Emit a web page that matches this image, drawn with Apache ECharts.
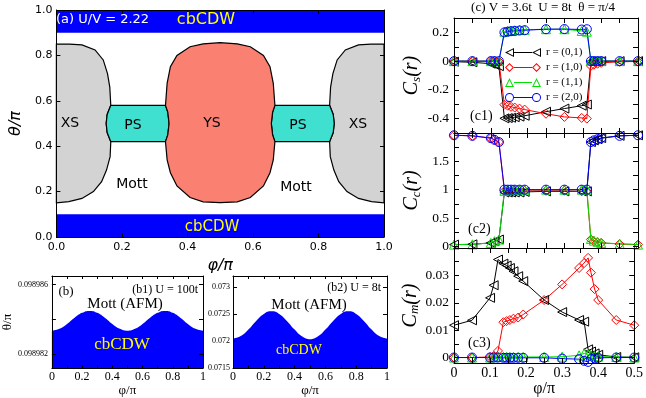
<!DOCTYPE html>
<html>
<head>
<meta charset="utf-8">
<script src="https://cdn.jsdelivr.net/npm/echarts@6/dist/echarts.min.js"></script>
<style>
html, body { margin: 0; padding: 0; background: #fff; }
#chart { width: 646px; height: 398px; }
</style>
</head>
<body>
<div id="chart"></div>
<script>
// ---- panel (a): phase regions, points are [phi/pi, theta/pi]
var cdwTop = [[0, 0.9], [1, 0.9], [1, 1], [0, 1]];
var cdwBottom = [[0, 0], [1, 0], [1, 0.1], [0, 0.1]];
var xsLeft = [[0, 0.85], [0.04, 0.85], [0.078, 0.846], [0.118, 0.824], [0.143, 0.78], [0.156, 0.72], [0.163, 0.66], [0.166, 0.58], [0.155, 0.54], [0.152, 0.5], [0.155, 0.46], [0.166, 0.42], [0.164, 0.354], [0.153, 0.295], [0.138, 0.244], [0.113, 0.2], [0.078, 0.17], [0.038, 0.156], [0, 0.151]];
var xsRight = [[1, 0.85], [0.96, 0.85], [0.922, 0.846], [0.882, 0.824], [0.857, 0.78], [0.844, 0.72], [0.837, 0.66], [0.834, 0.58], [0.845, 0.54], [0.848, 0.5], [0.845, 0.46], [0.834, 0.42], [0.836, 0.354], [0.847, 0.295], [0.862, 0.244], [0.887, 0.2], [0.922, 0.17], [0.962, 0.156], [1, 0.151]];
var psLeft = [[0.166, 0.58], [0.333, 0.58], [0.34, 0.55], [0.344, 0.5], [0.34, 0.45], [0.333, 0.42], [0.166, 0.42], [0.155, 0.46], [0.152, 0.5], [0.155, 0.54]];
var psRight = [[0.834, 0.58], [0.667, 0.58], [0.66, 0.55], [0.656, 0.5], [0.66, 0.45], [0.667, 0.42], [0.834, 0.42], [0.845, 0.46], [0.848, 0.5], [0.845, 0.54]];
var ysRegion = [[0.333, 0.58], [0.338, 0.677], [0.348, 0.75], [0.368, 0.8], [0.408, 0.838], [0.448, 0.851], [0.5, 0.856], [0.552, 0.851], [0.592, 0.838], [0.632, 0.8], [0.652, 0.75], [0.662, 0.677], [0.667, 0.58], [0.66, 0.55], [0.656, 0.5], [0.66, 0.45], [0.667, 0.42], [0.662, 0.34], [0.652, 0.283], [0.632, 0.225], [0.592, 0.174], [0.552, 0.155], [0.5, 0.151], [0.448, 0.155], [0.408, 0.174], [0.368, 0.225], [0.348, 0.283], [0.338, 0.34], [0.333, 0.42], [0.34, 0.45], [0.344, 0.5], [0.34, 0.55]];

// ---- panels (b1), (b2): cbCDW / Mott boundary
var bPhi = [0, 0.05, 0.1, 0.15, 0.2, 0.25, 0.3, 0.35, 0.4, 0.45, 0.5, 0.55, 0.6, 0.65, 0.7, 0.75, 0.8, 0.85, 0.9, 0.95, 1];
var b1Theta = [0.09898335, 0.09898346, 0.09898374, 0.0989841, 0.09898438, 0.09898449, 0.09898438, 0.0989841, 0.09898374, 0.09898346, 0.09898335, 0.09898346, 0.09898374, 0.0989841, 0.09898438, 0.09898449, 0.09898438, 0.0989841, 0.09898374, 0.09898346, 0.09898335];
var b2Theta = [0.072044, 0.07209, 0.07221, 0.07237, 0.0725, 0.072548, 0.0725, 0.07237, 0.07221, 0.07208, 0.072031, 0.07208, 0.07221, 0.07237, 0.0725, 0.072548, 0.0725, 0.07237, 0.07221, 0.07209, 0.072044];

// ---- panel (c): correlations vs phi/pi
var phi = [0, 0.05, 0.1, 0.11, 0.122, 0.137, 0.146, 0.155, 0.165, 0.178, 0.192, 0.25, 0.3, 0.347, 0.361, 0.372, 0.38, 0.39, 0.4, 0.45, 0.5];
var rNames = ['r = (0,1)', 'r = (1,0)', 'r = (1,1)', 'r = (2,0)'];
var cs01 = [-0.004, -0.008, -0.018, -0.025, -0.035, -0.398, -0.396, -0.394, -0.39, -0.386, -0.38, -0.352, -0.33, -0.31, -0.302, -0.003, -0.002, -0.001, 0, 0, 0];
var cs10 = [0, 0, 0, 0, -0.002, -0.303, -0.31, -0.318, -0.323, -0.33, -0.337, -0.366, -0.388, -0.395, -0.4, -0.033, -0.025, -0.018, -0.012, -0.005, -0.002];
var cs11 = [0, 0, 0, 0, 0, 0.205, 0.21, 0.213, 0.215, 0.217, 0.218, 0.222, 0.222, 0.21, 0.205, 0.003, 0.002, 0.001, 0, 0, 0];
var cs20 = [0, 0, 0, 0, 0, 0.2, 0.205, 0.208, 0.21, 0.213, 0.215, 0.222, 0.223, 0.22, 0.222, 0, 0, 0, 0, 0, 0];
var cc01 = [0.03, 0.035, 0.06, 0.09, 0.12, 0.95, 0.95, 0.95, 0.95, 0.95, 0.96, 0.97, 0.97, 0.97, 0.97, 1.84, 1.87, 1.89, 1.91, 1.95, 1.96];
var cc10 = [1.96, 1.95, 1.91, 1.88, 1.84, 0.98, 0.98, 0.98, 0.98, 0.98, 0.98, 0.98, 0.98, 0.97, 0.97, 0.12, 0.09, 0.07, 0.06, 0.04, 0.03];
var cc11 = [0.03, 0.035, 0.06, 0.09, 0.12, 0.98, 1, 1, 1, 1, 1, 1, 1, 1, 1, 0.13, 0.1, 0.08, 0.06, 0.045, 0.03];
var cc20 = [1.96, 1.95, 1.91, 1.88, 1.84, 1, 1, 1, 1, 1, 1, 1, 1, 1, 1, 1.84, 1.87, 1.89, 1.91, 1.95, 1.96];
var cm01 = [0.0118, 0.0136, 0.0218, 0.0264, 0.0358, 0.0343, 0.0336, 0.0327, 0.0315, 0.0297, 0.0279, 0.021, 0.0166, 0.0137, 0.0131, 0.003, 0.0022, 0.0015, 0.001, 0.0002, 0.0001];
var cm10 = [0, 0, 0.0002, 0.0005, 0.0024, 0.0129, 0.0133, 0.0137, 0.0142, 0.0146, 0.0157, 0.021, 0.0267, 0.0327, 0.0345, 0.0364, 0.031, 0.025, 0.021, 0.0137, 0.0118];
var cm11 = [0, 0, 0, 0.0001, 0.0003, 0.0002, 0.0002, 0.0002, 0.0002, 0.0002, 0.0002, 0.0002, 0.0003, 0.0008, 0.0015, 0.0012, 0.0008, 0.0005, 0.0003, 0.0002, 0];
var cm20 = [0, 0, 0, 0, 0, -0.0001, -0.0001, -0.0001, -0.0001, -0.0001, -0.0001, -0.0001, -0.0004, -0.0006, -0.0012, -0.0016, -0.0006, -0.0003, -0.0001, 0, 0];

var SANS = 'DejaVu Sans', SERIF = 'Liberation Serif';
var chart = echarts.init(document.getElementById('chart'));

var grids = [
    {left: 51, top: 10, width: 333, height: 227},
    {left: 49, top: 276, width: 154, height: 93},
    {left: 233, top: 276, width: 154, height: 92},
    {left: 454, top: 18, width: 184, height: 115},
    {left: 454, top: 133, width: 184, height: 115},
    {left: 454, top: 248, width: 184, height: 115.5}
];

function steps(a, b, d) {
    var out = [];
    for (var v = a; v <= b + d / 1000; v += d) out.push(+v.toFixed(8));
    return out;
}

var xAxes = [], yAxes = [];
// main axis carries labels and name, mirror axis only the inside ticks
function addAxes(list, gi, o, posMain, posMirror) {
    var common = {
        type: 'value', gridIndex: gi, min: o.min, max: o.max, z: 10,
        splitLine: {show: false},
        axisLine: {onZero: false, lineStyle: {color: '#000', width: 1}},
        axisTick: {inside: true, length: o.tick || 5, customValues: o.ticks, lineStyle: {color: '#000', width: 1}}
    };
    list.push(Object.assign({}, common, {
        position: posMain,
        name: o.name, nameLocation: 'middle', nameGap: o.nameGap, nameTextStyle: o.nameStyle,
        axisLabel: {customValues: o.labels, fontFamily: o.font, fontSize: o.fs, color: '#000',
            margin: o.margin, formatter: o.fmt}
    }));
    list.push(Object.assign({}, common, {position: posMirror, axisLabel: {show: false}}));
}

var fix1 = function (v) { return v.toFixed(1); };
var fix6 = function (v) { return v.toFixed(6); };
var plain = function (v) { return String(+v.toFixed(6)); };

// (a)
addAxes(xAxes, 0, {min: 0, max: 1, ticks: steps(0, 1, 0.2), labels: steps(0, 1, 0.2), font: SANS, fs: 11, margin: 5, fmt: fix1, tick: 4,
    name: 'φ/π', nameGap: 15, nameStyle: {fontFamily: SANS, fontStyle: 'italic', fontSize: 16, color: '#000'}}, 'bottom', 'top');
addAxes(yAxes, 0, {min: 0, max: 1, ticks: steps(0, 1, 0.2), labels: steps(0, 1, 0.2), font: SANS, fs: 11, margin: 4, fmt: fix1, tick: 4,
    name: 'θ/π', nameGap: 22, nameStyle: {fontFamily: SANS, fontStyle: 'italic', fontSize: 16, color: '#000'}}, 'left', 'right');
// (b1)
addAxes(xAxes, 1, {min: 0, max: 1, ticks: steps(0, 1, 0.1), labels: steps(0, 1, 0.2), font: SERIF, fs: 12, margin: 3, fmt: plain, tick: 3,
    name: 'φ/π', nameGap: 16, nameStyle: {fontFamily: SERIF, fontSize: 13, color: '#000'}}, 'bottom', 'top');
addAxes(yAxes, 1, {min: 0.0989812, max: 0.0989865, ticks: [0.098982, 0.098984, 0.098986], labels: [0.098982, 0.098986], font: SERIF, fs: 8, margin: 4, fmt: fix6, tick: 4,
    name: 'θ/π', nameGap: 8, nameStyle: {fontFamily: SERIF, fontSize: 13, color: '#000'}}, 'left', 'right');
// (b2)
addAxes(xAxes, 2, {min: 0, max: 1, ticks: steps(0, 1, 0.1), labels: steps(0, 1, 0.2), font: SERIF, fs: 12, margin: 3, fmt: plain, tick: 3,
    name: 'φ/π', nameGap: 16, nameStyle: {fontFamily: SERIF, fontSize: 13, color: '#000'}}, 'bottom', 'top');
addAxes(yAxes, 2, {min: 0.0715, max: 0.0732, ticks: steps(0.0715, 0.073, 0.0005), labels: steps(0.0715, 0.073, 0.0005), font: SERIF, fs: 8, margin: 3, fmt: plain, tick: 4}, 'left', 'right');
// (c1..c3)
var cNameStyle = {fontFamily: SERIF, color: '#000', rich: {
    i: {fontFamily: SERIF, fontStyle: 'italic', fontSize: 20, lineHeight: 22, verticalAlign: 'middle'},
    s: {fontFamily: SERIF, fontStyle: 'italic', fontSize: 13, lineHeight: 13, verticalAlign: 'bottom'}}};
var cY = [
    {min: -0.5, max: 0.3, ticks: steps(-0.5, 0.3, 0.1), labels: [-0.4, -0.2, 0, 0.2], name: '{i|C}{s|s}{i|(r)}'},
    {min: -0.03, max: 2, ticks: steps(0, 2, 0.25), labels: [0, 0.5, 1, 1.5], name: '{i|C}{s|c}{i|(r)}'},
    {min: -0.002, max: 0.04, ticks: steps(0, 0.04, 0.005), labels: [0, 0.01, 0.02, 0.03], name: '{i|C}{s|m}{i|(r)}'}
];
cY.forEach(function (c, k) {
    var last = k === 2;
    addAxes(xAxes, 3 + k, {min: 0, max: 0.5, ticks: steps(0, 0.5, 0.05), labels: last ? steps(0, 0.5, 0.1) : [], font: SERIF, fs: 14, margin: 3, fmt: plain, tick: 5,
        name: last ? 'φ/π' : '', nameGap: 18, nameStyle: {fontFamily: SERIF, fontSize: 16, color: '#000'}}, 'bottom', 'top');
    addAxes(yAxes, 3 + k, {min: c.min, max: c.max, ticks: c.ticks, labels: c.labels, font: SERIF, fs: 13.5, margin: 5, fmt: plain, tick: 5,
        name: c.name, nameGap: 31, nameStyle: cNameStyle}, 'left', 'right');
});

function region(pts, fill, stroke) {
    return {
        type: 'custom', xAxisIndex: 0, yAxisIndex: 0, silent: true, clip: false,
        data: pts, encode: {x: 0, y: 1},
        renderItem: function (params, api) {
            if (params.dataIndex !== 0) return;
            return {
                type: 'polygon',
                shape: {points: pts.map(function (p) { return api.coord(p); })},
                style: {fill: fill, stroke: stroke || 'none', lineWidth: 1.2}
            };
        }
    };
}

function boundary(gi, thetas) {
    return {
        type: 'line', xAxisIndex: gi * 2, yAxisIndex: gi * 2, silent: true,
        data: bPhi.map(function (p, i) { return [p, thetas[i]]; }),
        smooth: true, showSymbol: false, symbol: 'none',
        lineStyle: {width: 0, color: '#0000ff'},
        areaStyle: {color: '#0000ff', opacity: 1, origin: 'start'}
    };
}

// legend glyphs: hollow marker - line - hollow marker, in a 36 x 9 box
function ringAt(dx, outer, inner) {
    function poly(pts) {
        return 'M' + pts.map(function (p) { return (p[0] + dx) + ',' + p[1]; }).join(' L') + ' Z ';
    }
    return poly(outer) + poly(inner);
}
var glyphs = {
    left: [[[0, 4.5], [9, 0], [9, 9]], [[2.2, 4.5], [8, 7.4], [8, 1.6]]],
    diamond: [[[4.5, 0], [9, 4.5], [4.5, 9], [0, 4.5]], [[4.5, 1.4], [1.4, 4.5], [4.5, 7.6], [7.6, 4.5]]],
    up: [[[4.5, 0], [9, 9], [0, 9]], [[4.5, 2.2], [1.6, 8], [7.4, 8]]]
};
function legendIcon(kind) {
    var line = 'M9,4 L27,4 L27,5 L9,5 Z ';
    if (kind === 'circle') {
        var ring = function (dx) {
            return 'M' + dx + ',4.5 A4.5,4.5 0 1,0 ' + (dx + 9) + ',4.5 A4.5,4.5 0 1,0 ' + dx + ',4.5 Z ' +
                'M' + (dx + 1) + ',4.5 A3.5,3.5 0 1,1 ' + (dx + 8) + ',4.5 A3.5,3.5 0 1,1 ' + (dx + 1) + ',4.5 Z ';
        };
        return 'path://' + ring(0) + line + ring(27);
    }
    var g = glyphs[kind];
    return 'path://' + ringAt(0, g[0], g[1]) + line + ringAt(27, g[0], g[1]);
}

var rStyles = [
    {color: '#000000', symbol: 'triangle', rotate: 90, glyph: 'left'},
    {color: '#ff0000', symbol: 'diamond', rotate: 0, glyph: 'diamond'},
    {color: '#00e000', symbol: 'triangle', rotate: 0, glyph: 'up'},
    {color: '#0000ff', symbol: 'circle', rotate: 0, glyph: 'circle'}
];
var hollow = 'rgba(255,255,255,0)';
function corr(gi, k, vals) {
    var st = rStyles[k];
    return {
        type: 'line', name: rNames[k], xAxisIndex: gi * 2, yAxisIndex: gi * 2,
        data: phi.map(function (p, i) { return [p, vals[i]]; }),
        symbol: st.symbol, symbolRotate: st.rotate, symbolSize: 9, showAllSymbol: true,
        lineStyle: {color: st.color, width: 1},
        itemStyle: {color: hollow, borderColor: st.color, borderWidth: 1}
    };
}

var series = [
    region(cdwTop, '#0000ff'),
    region(cdwBottom, '#0000ff'),
    region(xsLeft, '#d3d3d3', '#000'),
    region(xsRight, '#d3d3d3', '#000'),
    region(psLeft, '#40e0d0', '#000'),
    region(psRight, '#40e0d0', '#000'),
    region(ysRegion, '#fa8072', '#000'),
    boundary(1, b1Theta),
    boundary(2, b2Theta)
];
[[cs01, cs10, cs11, cs20], [cc01, cc10, cc11, cc20], [cm01, cm10, cm11, cm20]].forEach(function (set, j) {
    set.forEach(function (vals, k) { series.push(corr(3 + j, k, vals)); });
});

function txt(x, y, s, o) {
    return {type: 'text', x: x, y: y, z: 100, silent: true,
        style: Object.assign({text: s, align: 'center', verticalAlign: 'middle', fill: '#000', fontFamily: SANS, fontSize: 14}, o)};
}
var graphics = [
    txt(56, 20, '(a) U/V = 2.22', {align: 'left', fill: '#fff', fontSize: 13}),
    txt(206, 20, 'cbCDW', {fill: '#ffff00', fontSize: 16}),
    txt(70, 123, 'XS'), txt(133, 125, 'PS'), txt(212, 123, 'YS'), txt(298, 125, 'PS'), txt(358, 124, 'XS'),
    txt(132, 184, 'Mott'), txt(296, 187, 'Mott'),
    txt(212, 227, 'cbCDW', {fill: '#ffff00', fontSize: 15}),
    txt(66, 292, '(b)', {fontFamily: SERIF, fontSize: 13}),
    txt(198, 290, '(b1) U = 100t', {align: 'right', fontFamily: SERIF, fontSize: 12}),
    txt(125, 304, 'Mott (AFM)', {fontFamily: SERIF, fontSize: 15}),
    txt(122, 345, 'cbCDW', {fontFamily: SERIF, fontSize: 17, fill: '#ffff00'}),
    txt(381, 288, '(b2) U = 8t', {align: 'right', fontFamily: SERIF, fontSize: 12}),
    txt(309, 305, 'Mott (AFM)', {fontFamily: SERIF, fontSize: 15}),
    txt(299, 350, 'cbCDW', {fontFamily: SERIF, fontSize: 14, fill: '#ffff00'}),
    txt(543, 8, '(c) V = 3.6t  U = 8t  θ = π/4', {fontFamily: SERIF, fontSize: 13}),
    txt(470, 116, '(c1)', {align: 'left', fontFamily: SERIF, fontSize: 14}),
    txt(468, 229, '(c2)', {align: 'left', fontFamily: SERIF, fontSize: 14}),
    txt(468, 343, '(c3)', {align: 'left', fontFamily: SERIF, fontSize: 14})
];

chart.setOption({
    animation: false,
    backgroundColor: '#fff',
    grid: grids,
    xAxis: xAxes,
    yAxis: yAxes,
    legend: {
        left: 500, top: 42, orient: 'vertical', itemWidth: 36, itemHeight: 9, itemGap: 4,
        selectedMode: false,
        data: rNames.map(function (n, k) {
            return {name: n, icon: legendIcon(rStyles[k].glyph),
                itemStyle: {color: rStyles[k].color, borderWidth: 0}};
        }),
        textStyle: {fontFamily: SERIF, fontSize: 11, color: '#000'}
    },
    series: series,
    graphic: graphics
});
</script>
</body>
</html>
